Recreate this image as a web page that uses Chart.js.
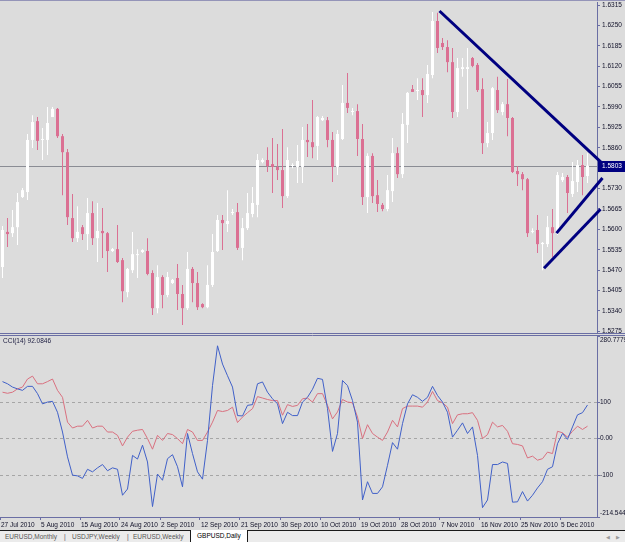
<!DOCTYPE html>
<html>
<head>
<meta charset="utf-8">
<script src="https://cdn.jsdelivr.net/npm/chart.js@4.4.1/dist/chart.umd.min.js"></script>
<style>
  html, body { margin: 0; padding: 0; }
  body { width: 625px; height: 542px; overflow: hidden; position: relative; background: #dcdcdc; font-family: "Liberation Sans", Arial, sans-serif; }
  #topline { position: absolute; left: 0; top: 0; width: 625px; height: 1px; background: #9494b8; }
  #main { position: absolute; left: 0; top: 0; }
  #cci { position: absolute; left: 0; top: 332px; }
  #cciLabel { position: absolute; left: 3px; top: 337px; font-size: 6.5px; color: #1c1c40; white-space: nowrap; }
  #tabs { position: absolute; left: 0; top: 530px; width: 625px; height: 11px; background: #ebebeb; border-top: 1px solid #1a1a1a; font-size: 6.5px; color: #555; }
  #tabs span { position: absolute; top: 2px; white-space: nowrap; }
  #tabs .active { top: -1px; height: 10px; padding: 2px 6px 0 6px; background: #fff; color: #000; border: 1px solid #1a1a1a; border-top: none; }
  #tabs .arrow { color: #999; font-size: 5px; top: 3px; }
</style>
</head>
<body>
<div id="topline"></div>
<canvas id="main" width="625" height="336"></canvas>
<canvas id="cci" width="625" height="198"></canvas>
<div id="cciLabel">CCI(14) 92.0846</div>
<div id="tabs">
  <span style="left:5px">EURUSD,Monthly</span>
  <span style="left:64px">|</span>
  <span style="left:72px">USDJPY,Weekly</span>
  <span style="left:127px">|</span>
  <span style="left:133px">EURUSD,Weekly</span>
  <span class="active" style="left:190px">GBPUSD,Daily</span>
  <span class="arrow" style="left:606px">&#9664;</span>
  <span class="arrow" style="left:616px">&#9654;</span>
</div>
<script>
// GBPUSD daily, 27 Jul 2010 .. Dec 2010
const open = [1.5480,1.5592,1.5588,1.5607,1.5703,1.5719,1.5885,1.5945,1.5885,1.5885,
  1.5958,1.5984,1.5897,1.5846,1.5636,1.5572,1.5607,1.5585,1.5652,1.5572,
  1.5595,1.5588,1.5531,1.5537,1.5502,1.5400,1.5470,1.5518,1.5528,1.5531,
  1.5461,1.5349,1.5448,1.5391,1.5429,1.5445,1.5394,1.5349,1.5474,1.5429,
  1.5362,1.5352,1.5423,1.5531,1.5630,1.5617,1.5652,1.5655,1.5541,1.5604,
  1.5649,1.5678,1.5815,1.5821,1.5808,1.5799,1.5789,1.5706,1.5802,1.5799,
  1.5799,1.5885,1.5878,1.5866,1.5948,1.5948,1.5885,1.5799,1.5888,1.6003,
  1.5974,1.5977,1.5888,1.5703,1.5834,1.5709,1.5678,1.5665,1.5722,1.5843,
  1.5776,1.5933,1.6047,1.6041,1.6044,1.6028,1.6092,1.6264,1.6194,1.6181,
  1.6133,1.5974,1.6111,1.6111,1.6146,1.6124,1.6047,1.5875,1.5907,1.6044,
  1.5974,1.5999,1.5955,1.5786,1.5776,1.5760,1.5592,1.5598,1.5553,1.5553,
  1.5607,1.5588,1.5757,1.5767,1.5713,1.5751,1.5805,1.5770];
const high = [1.5611,1.5636,1.5662,1.5716,1.5732,1.5904,1.5964,1.5958,1.5923,1.5990,
  1.5990,1.5987,1.5904,1.5856,1.5713,1.5674,1.5614,1.5700,1.5690,1.5684,
  1.5668,1.5592,1.5541,1.5614,1.5509,1.5477,1.5592,1.5537,1.5537,1.5572,
  1.5470,1.5486,1.5454,1.5464,1.5442,1.5490,1.5423,1.5528,1.5480,1.5464,
  1.5365,1.5486,1.5585,1.5646,1.5646,1.5725,1.5665,1.5684,1.5636,1.5716,
  1.5735,1.5840,1.5827,1.5862,1.5891,1.5872,1.5920,1.5862,1.5811,1.5869,
  1.5926,1.5936,1.6012,1.5961,1.5961,1.5958,1.5910,1.5917,1.6060,1.6098,
  1.5987,1.5999,1.5936,1.5843,1.5843,1.5757,1.5684,1.5773,1.5891,1.5862,
  1.5971,1.6038,1.6060,1.6082,1.6082,1.6124,1.6293,1.6290,1.6210,1.6203,
  1.6178,1.6146,1.6146,1.6178,1.6149,1.6130,1.6082,1.5942,1.6054,1.6086,
  1.6006,1.6079,1.5958,1.5802,1.5783,1.5764,1.5604,1.5646,1.5560,1.5643,
  1.5665,1.5783,1.5780,1.5773,1.5815,1.5821,1.5837,1.5843];
const low = [1.5445,1.5544,1.5576,1.5550,1.5700,1.5694,1.5859,1.5853,1.5821,1.5837,
  1.5958,1.5891,1.5709,1.5614,1.5560,1.5560,1.5566,1.5534,1.5550,1.5496,
  1.5509,1.5464,1.5528,1.5493,1.5368,1.5384,1.5461,1.5445,1.5525,1.5454,
  1.5327,1.5333,1.5349,1.5384,1.5426,1.5343,1.5295,1.5343,1.5368,1.5343,
  1.5349,1.5349,1.5416,1.5528,1.5534,1.5592,1.5646,1.5534,1.5502,1.5598,
  1.5639,1.5639,1.5811,1.5783,1.5716,1.5757,1.5668,1.5700,1.5795,1.5748,
  1.5748,1.5831,1.5827,1.5821,1.5945,1.5862,1.5751,1.5773,1.5885,1.5971,
  1.5964,1.5834,1.5678,1.5652,1.5684,1.5655,1.5658,1.5658,1.5687,1.5764,
  1.5764,1.5875,1.6038,1.6012,1.5958,1.6003,1.6082,1.6162,1.6172,1.6101,
  1.5955,1.5958,1.6086,1.5984,1.6117,1.6038,1.5840,1.5862,1.5885,1.5971,
  1.5964,1.5897,1.5780,1.5738,1.5725,1.5576,1.5588,1.5525,1.5470,1.5544,
  1.5512,1.5582,1.5751,1.5652,1.5703,1.5719,1.5709,1.5748];
const close = [1.5598,1.5585,1.5607,1.5687,1.5725,1.5885,1.5942,1.5882,1.5888,1.5939,
  1.5984,1.5897,1.5846,1.5639,1.5572,1.5592,1.5585,1.5652,1.5572,1.5595,
  1.5588,1.5531,1.5537,1.5496,1.5403,1.5474,1.5521,1.5521,1.5534,1.5458,
  1.5349,1.5448,1.5391,1.5448,1.5439,1.5394,1.5349,1.5474,1.5429,1.5352,
  1.5352,1.5423,1.5528,1.5630,1.5620,1.5627,1.5655,1.5541,1.5604,1.5652,
  1.5684,1.5821,1.5821,1.5802,1.5799,1.5789,1.5706,1.5821,1.5805,1.5818,
  1.5885,1.5878,1.5862,1.5958,1.5955,1.5885,1.5799,1.5904,1.6003,1.5987,
  1.5977,1.5888,1.5703,1.5834,1.5706,1.5681,1.5665,1.5725,1.5843,1.5776,
  1.5936,1.6035,1.6038,1.6044,1.6028,1.6095,1.6264,1.6178,1.6181,1.6133,
  1.5974,1.6114,1.6117,1.6117,1.6121,1.6044,1.5875,1.5907,1.6050,1.5980,
  1.5999,1.5955,1.5783,1.5776,1.5760,1.5588,1.5595,1.5553,1.5557,1.5607,
  1.5588,1.5773,1.5767,1.5716,1.5754,1.5805,1.5767,1.5803];

// CCI(14) and the second (pink) CCI line, one value per bar
const cciMain = [156,150,141,136,132,143,143,123,95,100,
  102,72,18,-50,-100,-102,-109,-84,-91,-80,
  -71,-88,-80,-84,-155,-138,-46,-56,-18,-64,
  -186,-97,-114,-55,-44,-77,-132,14,-41,-91,
  -111,-5,145,254,204,172,141,63,62,91,
  93,150,155,127,109,95,41,72,63,63,
  100,113,135,165,162,82,-35,14,159,145,
  104,45,-168,-118,-150,-150,-132,-73,-11,-29,
  41,95,120,113,102,113,143,118,100,72,
  4,23,43,14,32,-46,-189,-168,-71,-71,
  -64,-68,-174,-173,-145,-171,-155,-135,-118,-84,
  -77,-14,14,-2,32,65,71,92];
const cciSignal = [127,124,127,136,141,163,171,150,150,156,
  163,132,113,45,29,34,34,50,29,34,
  34,18,18,9,-20,4,20,23,25,0,
  -29,9,-5,14,11,0,-14,25,18,-5,
  -5,18,45,77,74,77,86,44,59,71,
  82,115,111,107,104,104,64,93,88,91,
  109,111,100,123,123,91,54,73,107,100,
  98,59,0,38,14,4,-5,18,50,32,
  82,89,89,89,86,100,129,104,98,86,
  41,65,68,68,71,50,0,11,45,32,
  36,20,-14,-16,-20,-53,-48,-59,-55,-37,
  -41,20,16,4,20,34,25,34];

const dates = ['27 Jul 2010','5 Aug 2010','15 Aug 2010','24 Aug 2010','2 Sep 2010',
  '12 Sep 2010','21 Sep 2010','30 Sep 2010','10 Oct 2010','19 Oct 2010',
  '28 Oct 2010','7 Nov 2010','16 Nov 2010','25 Nov 2010','5 Dec 2010'];
const dateBars = [0,8,16,24,32,40,48,56,64,72,80,88,96,104,112];

const priceTicks = [1.6315,1.6250,1.6185,1.6120,1.6055,1.5990,1.5925,1.5860,1.5795,
  1.5730,1.5665,1.5600,1.5535,1.5470,1.5405,1.5340,1.5275];
const cciTicks = [280.7779,100,0,-100,-214.544];
const cciTickLabels = ['280.7779','100','0.00','-100','-214.544'];
const cciLevels = [100,0,-100];

// trend lines: [bar, price] end points
const trendDown = [[87.4,1.6296],[119.9,1.5811]];
const trendUp1 = [[110.8,1.5588],[120.0,1.5764]];
const trendUp2 = [[108.3,1.5476],[119.6,1.5664]];

const PINK = '#db7093';
const WHITE = '#ffffff';
const NAVY = '#000080';
const FRAME = '#6a6ea4';
const AXIS_FONT = { family: 'Liberation Sans', size: 6.5 };
const TEXT = '#101028';

const bars = open.map((_, i) => i);
const isBull = i => close[i] >= open[i];
const candleColor = ctx => isBull(ctx.dataIndex) ? WHITE : PINK;
const toPts = arr => arr.map(([x, y]) => ({ x, y }));

const trendStyle = { type: 'line', borderColor: NAVY, borderWidth: 3, pointRadius: 0, clip: false, order: 0 };

const bidLine = {
  id: 'bidLine',
  beforeDatasetsDraw(chart) {
    const { ctx, chartArea: a, scales: { y } } = chart;
    const py = Math.round(y.getPixelForValue(close[close.length - 1])) + 0.5;
    ctx.save();
    ctx.strokeStyle = '#8a8c94';
    ctx.lineWidth = 1;
    ctx.beginPath();
    ctx.moveTo(a.left, py);
    ctx.lineTo(a.right, py);
    ctx.stroke();
    ctx.restore();
  },
  afterDraw(chart) {
    const { ctx, chartArea: a, scales: { y } } = chart;
    const last = close[close.length - 1];
    const py = Math.round(y.getPixelForValue(last));
    ctx.save();
    // bottom frame of the price window
    ctx.strokeStyle = FRAME;
    ctx.lineWidth = 1;
    ctx.beginPath();
    ctx.moveTo(0, a.bottom + 0.5);
    ctx.lineTo(chart.width, a.bottom + 0.5);
    ctx.stroke();
    // current price box
    ctx.fillStyle = NAVY;
    ctx.fillRect(a.right + 1, py - 5, chart.width - a.right - 1, 11);
    ctx.fillStyle = '#ffffff';
    ctx.font = '6.5px "Liberation Sans"';
    ctx.textBaseline = 'middle';
    ctx.fillText(last.toFixed(4), a.right + 5, py + 0.5);
    ctx.restore();
  }
};

const cciFrame = {
  id: 'cciFrame',
  afterDraw(chart) {
    const { ctx, chartArea: a } = chart;
    ctx.save();
    ctx.strokeStyle = FRAME;
    ctx.lineWidth = 1;
    ctx.beginPath();
    ctx.moveTo(0, a.top - 0.5);
    ctx.lineTo(chart.width, a.top - 0.5);
    ctx.stroke();
    ctx.restore();
  }
};

new Chart(document.getElementById('main'), {
  type: 'bar',
  data: {
    datasets: [
      {
        data: bars.map(i => ({ x: i, y: [low[i], high[i]] })),
        backgroundColor: candleColor, barThickness: 1, minBarLength: 1,
        grouped: false, inflateAmount: 0, borderWidth: 0, order: 2
      },
      {
        data: bars.map(i => ({ x: i, y: [open[i], close[i]] })),
        backgroundColor: candleColor, barThickness: 3, minBarLength: 1,
        grouped: false, inflateAmount: 0, borderWidth: 0, order: 1
      },
      Object.assign({ data: toPts(trendDown) }, trendStyle),
      Object.assign({ data: toPts(trendUp1) }, trendStyle),
      Object.assign({ data: toPts(trendUp2) }, trendStyle)
    ]
  },
  options: {
    responsive: false,
    animation: false,
    layout: { padding: { top: 2, bottom: 3, left: 0, right: 0 } },
    plugins: { legend: { display: false }, tooltip: { enabled: false } },
    scales: {
      x: { type: 'linear', min: -0.5, max: 118.9, offset: false, display: false },
      y: {
        type: 'linear', position: 'right', min: 1.52698, max: 1.63246,
        bounds: 'data', beginAtZero: false,
        afterBuildTicks: s => { s.ticks = priceTicks.map(v => ({ value: v })); },
        afterFit: s => { s.width = 28; s.paddingTop = 0; s.paddingBottom = 0; },
        ticks: { callback: v => v.toFixed(4), font: AXIS_FONT, color: TEXT, padding: 2 },
        grid: { drawOnChartArea: false, tickLength: 3, tickColor: FRAME },
        border: { color: FRAME }
      }
    }
  },
  plugins: [bidLine]
});

new Chart(document.getElementById('cci'), {
  type: 'line',
  data: {
    datasets: [
      { data: bars.map(i => ({ x: i, y: cciMain[i] })), borderColor: '#4060c8', borderWidth: 1, pointRadius: 0, order: 0 },
      { data: bars.map(i => ({ x: i, y: cciSignal[i] })), borderColor: '#d9707f', borderWidth: 1, pointRadius: 0, order: 1 }
    ]
  },
  options: {
    responsive: false,
    animation: false,
    layout: { padding: { top: 4, bottom: 0, left: 0, right: 0 } },
    plugins: { legend: { display: false }, tooltip: { enabled: false } },
    scales: {
      x: {
        type: 'linear', min: -0.5, max: 118.9, offset: false, bounds: 'data',
        afterBuildTicks: s => { s.ticks = dateBars.map(v => ({ value: v - 0.5 })); },
        afterFit: s => { s.height = 13; s.paddingLeft = 0; s.paddingRight = 0; },
        ticks: {
          autoSkip: false, maxRotation: 0, minRotation: 0, align: 'start', padding: 1, labelOffset: 1,
          callback: (v, k) => dates[k], font: AXIS_FONT, color: TEXT
        },
        grid: { drawOnChartArea: false, tickLength: 3, tickColor: FRAME },
        border: { color: FRAME }
      },
      y: {
        type: 'linear', position: 'right', min: -214.544, max: 280.7779, bounds: 'data',
        afterBuildTicks: s => { s.ticks = cciTicks.map(v => ({ value: v })); },
        afterFit: s => { s.width = 28; s.paddingTop = 0; s.paddingBottom = 0; },
        ticks: {
          font: AXIS_FONT, color: TEXT, padding: 0,
          callback: (v, k) => {
            const label = cciTickLabels[k];
            if (k === 0) return ['', label];
            if (k === cciTickLabels.length - 1) return [label, ''];
            return label;
          }
        },
        grid: {
          color: ctx => (ctx.tick && cciLevels.includes(ctx.tick.value)) ? '#a6a6a6' : 'rgba(0,0,0,0)',
          tickLength: 3, tickColor: FRAME
        },
        border: { color: FRAME, dash: [3, 3] }
      }
    }
  },
  plugins: [cciFrame]
});
</script>
</body>
</html>
